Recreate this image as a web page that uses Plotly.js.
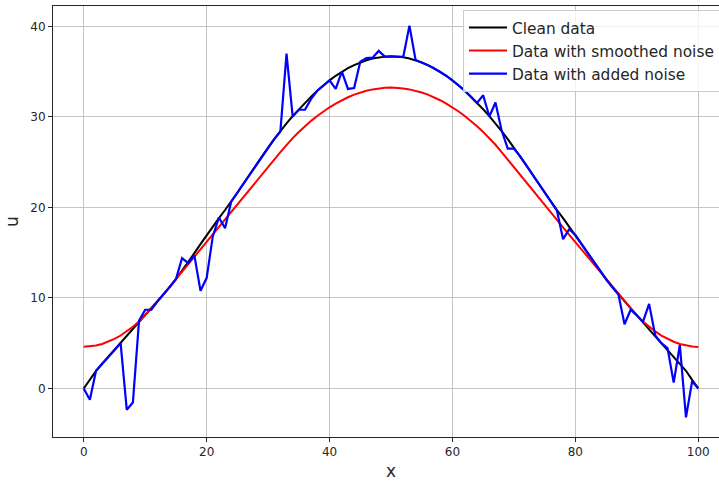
<!DOCTYPE html>
<html>
<head>
<meta charset="utf-8">
<script src="https://cdn.plot.ly/plotly-3.0.1.min.js"></script>
<style>
html,body{margin:0;padding:0;overflow:hidden;background:#fff;}
#chart{width:730px;height:483px;}
</style>
</head>
<body>
<div id="chart"></div>
<script>
var xs = [0,1,2,3,4,5,6,7,8,9,10,11,12,13,14,15,16,17,18,19,20,21,22,23,24,25,26,27,28,29,30,31,32,33,34,35,36,37,38,39,40,41,42,43,44,45,46,47,48,49,50,51,52,53,54,55,56,57,58,59,60,61,62,63,64,65,66,67,68,69,70,71,72,73,74,75,76,77,78,79,80,81,82,83,84,85,86,87,88,89,90,91,92,93,94,95,96,97,98,99,100];

var cleanData = [0,0.95,1.95,2.73,3.5,4.25,5.0,5.75,6.52,7.3,8.08,8.85,9.62,10.4,11.2,12.07,13.0,13.97,14.95,15.95,16.95,17.9,18.82,19.72,20.65,21.63,22.65,23.67,24.68,25.67,26.63,27.55,28.45,29.3,30.1,30.85,31.55,32.25,32.9,33.5,34.05,34.55,34.99,35.39,35.73,36.03,36.27,36.46,36.59,36.67,36.7,
36.67,36.59,36.46,36.27,36.03,35.73,35.39,34.99,34.55,34.05,33.5,32.9,32.25,31.55,30.85,30.1,29.3,28.45,27.55,26.63,25.67,24.68,23.67,22.65,21.63,20.65,19.72,18.82,17.9,16.95,15.95,14.95,13.97,13.0,12.07,11.2,10.4,9.62,8.85,8.08,7.3,6.52,5.75,5.0,4.25,3.5,2.73,1.95,0.95,0];

var smoothedNoise = [4.6,4.63,4.74,4.91,5.16,5.47,5.85,6.3,6.82,7.41,8.07,8.8,9.6,10.42,11.24,12.06,12.88,13.7,14.52,15.34,16.16,16.98,17.8,18.62,19.44,20.26,21.08,21.9,22.73,23.57,24.42,25.28,26.12,26.93,27.67,28.35,28.98,29.57,30.11,30.61,31.07,31.48,31.85,32.18,32.47,32.71,32.9,33.05,33.16,33.23,33.25,
33.23,33.16,33.05,32.9,32.71,32.47,32.18,31.85,31.48,31.07,30.61,30.11,29.57,28.98,28.35,27.67,26.93,26.12,25.28,24.42,23.57,22.73,21.9,21.08,20.26,19.44,18.62,17.8,16.98,16.16,15.34,14.52,13.7,12.88,12.06,11.24,10.42,9.6,8.8,8.07,7.41,6.82,6.3,5.85,5.47,5.16,4.91,4.74,4.63,4.58];

var addedNoise = [0,-1.25,1.95,2.73,3.5,4.25,5.0,-2.35,-1.55,7.5,8.7,8.7,9.62,10.4,11.2,12.07,14.4,13.85,14.7,10.8,12.2,16.8,18.9,17.7,20.65,21.63,22.65,23.67,24.68,25.67,26.63,27.55,28.4,37.0,30.05,30.8,30.8,32.0,32.9,33.5,34.05,33.1,35.0,33.1,33.2,36.1,36.5,36.55,37.3,36.67,36.7,
36.67,36.65,40.1,36.3,36.03,35.73,35.39,34.99,34.55,34.05,33.5,32.9,32.25,31.55,32.4,30.05,31.6,28.5,26.5,26.5,25.67,24.68,23.67,22.65,21.63,20.65,19.65,16.5,17.6,16.95,15.95,14.95,13.97,13.0,12.07,11.2,10.4,7.1,8.7,8.08,7.35,9.35,5.85,5.0,4.45,0.65,4.8,-3.2,0.8,0];

var seriesNames = ["Clean data", "Data with smoothed noise", "Data with added noise"];
var xTicks = [0,20,40,60,80,100];
var yTicks = [0,10,20,30,40];

var traces = [
  {x: xs, y: cleanData, mode: 'lines', name: seriesNames[0], line: {color: '#000000', width: 2}},
  {x: xs, y: smoothedNoise, mode: 'lines', name: seriesNames[1], line: {color: '#ff0000', width: 2}},
  {x: xs, y: addedNoise, mode: 'lines', name: seriesNames[2], line: {color: '#0000ff', width: 2.2}}
];

var axisCommon = {
  showgrid: true, gridcolor: '#c4c4c4', gridwidth: 1,
  zeroline: false, showline: true, mirror: true, linecolor: '#262626', linewidth: 1,
  ticks: 'outside', ticklen: 4, tickcolor: '#262626', tickwidth: 1,
  tickfont: {family: 'DejaVu Sans', size: 12, color: '#262626'}
};

var layout = {
  width: 730, height: 483,
  margin: {l: 53, r: 1, t: 6, b: 46, pad: 0},
  paper_bgcolor: '#ffffff', plot_bgcolor: '#ffffff',
  font: {family: 'DejaVu Sans', color: '#262626'},
  showlegend: true,
  legend: {
    x: 0.6065, y: 0.9906, xanchor: 'left', yanchor: 'top',
    bgcolor: 'rgba(255,255,255,0.8)', bordercolor: '#cccccc', borderwidth: 1,
    font: {family: 'DejaVu Sans', size: 15.4, color: '#262626'},
    itemwidth: 38,
    tracegroupgap: 0
  },
  xaxis: Object.assign({}, axisCommon, {
    range: [-5, 105], tickvals: xTicks, ticktext: xTicks.map(String),
    title: {text: 'x', font: {family: 'DejaVu Sans', size: 17, color: '#262626'}, standoff: 6}
  }),
  yaxis: Object.assign({}, axisCommon, {
    range: [-5.365, 42.265], tickvals: yTicks, ticktext: yTicks.map(String),
    title: {text: 'u', font: {family: 'DejaVu Sans', size: 17, color: '#262626'}, standoff: 7}
  })
};

Plotly.newPlot('chart', traces, layout, {displayModeBar: false, staticPlot: true});
</script>
</body>
</html>
